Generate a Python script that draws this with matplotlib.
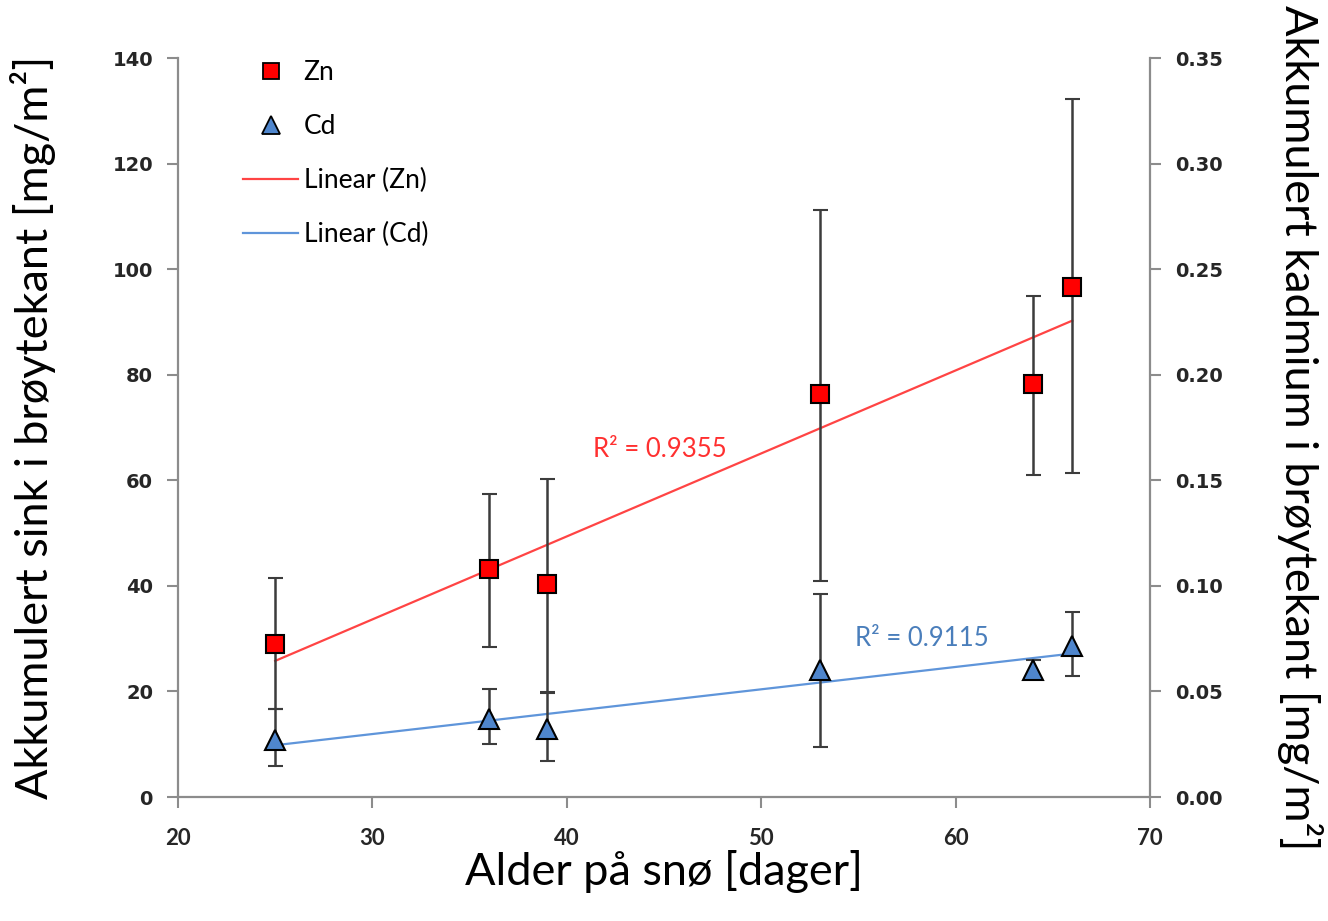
import numpy as np
import matplotlib
matplotlib.use("Agg")
import matplotlib.pyplot as plt
from matplotlib.lines import Line2D

# Snow age (days) at each sampling point
days = [25, 36, 39, 53, 64, 66]

# Accumulated zinc (mg/m2) with lower/upper error limits
zn = [29.0, 43.2, 40.3, 76.3, 78.3, 96.7]
zn_lo = [16.7, 28.4, 19.7, 40.9, 61.0, 61.4]
zn_hi = [41.5, 57.4, 60.2, 111.2, 94.9, 132.2]

# Accumulated cadmium (mg/m2) with lower/upper error limits
cd = [0.0270, 0.0369, 0.0324, 0.0600, 0.0602, 0.0715]
cd_lo = [0.0147, 0.0251, 0.0171, 0.0237, 0.0570, 0.0573]
cd_hi = [0.0417, 0.0512, 0.0497, 0.0961, 0.0650, 0.0876]

zn_r2_text = "R² = 0.9355"
cd_r2_text = "R² = 0.9115"

x_ticks = [20, 30, 40, 50, 60, 70]
zn_ticks = [0, 20, 40, 60, 80, 100, 120, 140]
cd_ticks = [0.00, 0.05, 0.10, 0.15, 0.20, 0.25, 0.30, 0.35]

RED = "#ff0000"
RED_LINE = "#ff4444"
BLUE = "#4f86cd"
BLUE_LINE = "#5f95da"
ERR = "#3c3c3c"
SPINE = "#8c8c8c"
LABEL_FONT = ["Lato", "DejaVu Sans"]

fig = plt.figure(figsize=(13.28, 9.21), dpi=100)
ax = fig.add_axes([178 / 1328, 1 - 797 / 921, 972 / 1328, 739 / 921])
ax2 = ax.twinx()

x = np.array(days, dtype=float)
zn_a = np.array(zn)
cd_a = np.array(cd)

# Linear trend lines (least squares)
xfit = np.array([x.min(), x.max()])
pz = np.polyfit(x, zn_a, 1)
pc = np.polyfit(x, cd_a, 1)
ax.plot(xfit, np.polyval(pz, xfit), color=RED_LINE, lw=1.6, zorder=2)
ax2.plot(xfit, np.polyval(pc, xfit), color=BLUE_LINE, lw=1.6, zorder=2)

# Error bars and markers
err_kw = dict(ecolor=ERR, elinewidth=1.8, capsize=5.4, capthick=1.6, linestyle="none")
ax.errorbar(x, zn_a, yerr=[zn_a - np.array(zn_lo), np.array(zn_hi) - zn_a],
            marker="s", ms=13.5, mfc=RED, mec="black", mew=1.5, zorder=3, **err_kw)
ax2.errorbar(x, cd_a, yerr=[cd_a - np.array(cd_lo), np.array(cd_hi) - cd_a],
             marker="^", ms=15, mfc=BLUE, mec="black", mew=1.5, zorder=3, **err_kw)

# Axes limits and ticks
ax.set_xlim(20, 70)
ax.set_ylim(0, 140)
ax2.set_ylim(0, 0.35)
ax.set_xticks(x_ticks)
ax.set_yticks(zn_ticks)
ax2.set_yticks(cd_ticks)
ax2.set_yticklabels([f"{v:.2f}" for v in cd_ticks])

for a in (ax, ax2):
    a.spines["top"].set_visible(False)
    for s in ("left", "right", "bottom"):
        a.spines[s].set_color(SPINE)
        a.spines[s].set_linewidth(1.6)
    a.tick_params(colors=SPINE, width=1.5, length=8, labelcolor="#262626")
ax.spines["right"].set_visible(False)
ax2.spines["left"].set_visible(False)
ax2.spines["bottom"].set_visible(False)

ax.tick_params(axis="y", pad=10)
ax2.tick_params(axis="y", pad=10)
for lab in ax.get_yticklabels() + ax2.get_yticklabels():
    lab.set_fontsize(14)
    lab.set_fontweight("bold")
ax.tick_params(axis="x", pad=14)
for lab in ax.get_xticklabels():
    lab.set_fontfamily(LABEL_FONT)
    lab.set_fontsize(16)
    lab.set_fontweight("bold")

# Axis titles
ax.set_xlabel("Alder på snø [dager]", family=LABEL_FONT, fontsize=32.5, va="center")
ax.xaxis.set_label_coords(0.5, (797 - 871) / 739)
ax.set_ylabel("Akkumulert sink i brøytekant [mg/m²]", family=LABEL_FONT,
              fontsize=32.5, va="center")
ax.yaxis.set_label_coords((33 - 178) / 972, 0.5)
ax2.set_ylabel("Akkumulert kadmium i brøytekant [mg/m²]", family=LABEL_FONT,
               fontsize=32.5, va="center", rotation=270)
ax2.yaxis.set_label_coords((1300 - 178) / 972, 0.5)

# R² annotations
ax.text(41.35, 65.9, zn_r2_text, color="#ff3030", family=LABEL_FONT, fontsize=18.5,
        ha="left", va="center")
ax2.text(54.83, 0.0753, cd_r2_text, color="#4a7ebb", family=LABEL_FONT, fontsize=18.5,
         ha="left", va="center")

# Legend
handles = [
    Line2D([], [], ls="none", marker="s", ms=12, mfc=RED, mec="black", mew=1.3),
    Line2D([], [], ls="none", marker="^", ms=13, mfc=BLUE, mec="black", mew=1.3),
    Line2D([], [], color=RED_LINE, lw=1.6),
    Line2D([], [], color=BLUE_LINE, lw=1.6),
]
labels = ["Zn", "Cd", "Linear (Zn)", "Linear (Cd)"]
fig.legend(handles, labels, loc="upper left",
           bbox_to_anchor=(243 / 1328, 1 - 60 / 921), bbox_transform=fig.transFigure,
           frameon=False, borderpad=0, borderaxespad=0, handlelength=2.1,
           handletextpad=0.2, labelspacing=1.1,
           prop={"family": LABEL_FONT, "size": 19})

fig.savefig("out.png", dpi=100)
